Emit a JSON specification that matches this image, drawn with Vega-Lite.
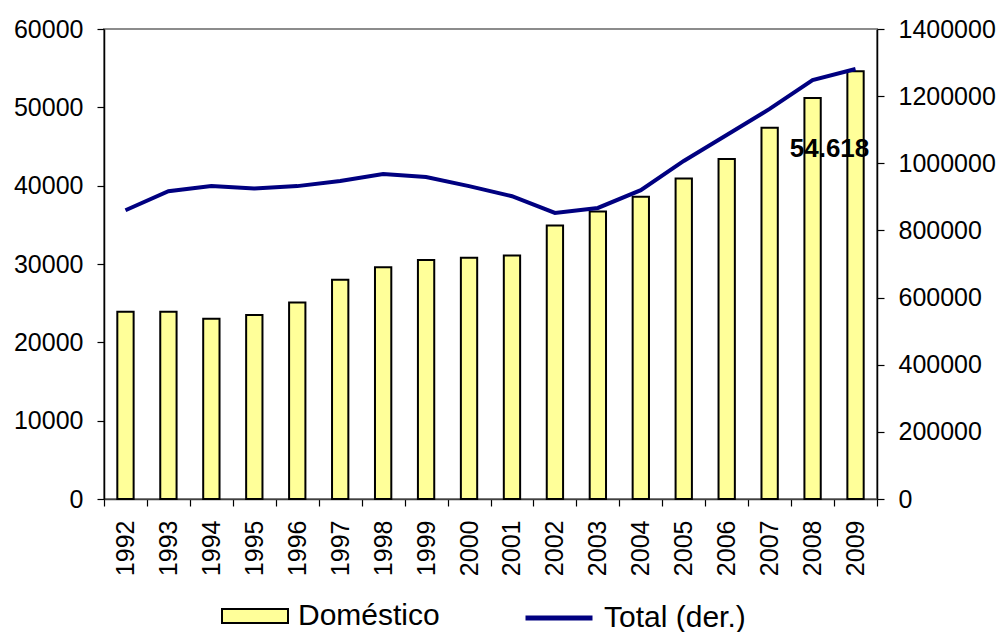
{
  "$schema": "https://vega.github.io/schema/vega-lite/v6.json",
  "width": 773,
  "height": 470,
  "autosize": {"type": "none"},
  "padding": {"left": 104, "top": 29, "right": 125, "bottom": 133},
  "background": "white",
  "config": {
    "font": "Liberation Sans",
    "view": {"stroke": "#8c8c8c", "strokeWidth": 2},
    "axis": {
      "labelFont": "Liberation Sans",
      "labelFontSize": 25,
      "labelColor": "black",
      "domainColor": "black",
      "domainWidth": 1.5,
      "tickColor": "black",
      "tickWidth": 1.2,
      "tickSize": 7,
      "grid": false,
      "title": null
    },
    "legend": {
      "title": null,
      "orient": "none",
      "padding": 0,
      "labelFontSize": 30,
      "labelFont": "Liberation Sans",
      "labelColor": "black",
      "labelOffset": 9,
      "labelLimit": 400
    }
  },
  "data": {
    "values": [
      {"year": "1992", "dom": 23900, "total": 860000},
      {"year": "1993", "dom": 23900, "total": 917000},
      {"year": "1994", "dom": 23000, "total": 932000},
      {"year": "1995", "dom": 23500, "total": 925000},
      {"year": "1996", "dom": 25100, "total": 932000},
      {"year": "1997", "dom": 28000, "total": 947000},
      {"year": "1998", "dom": 29600, "total": 968000},
      {"year": "1999", "dom": 30500, "total": 959000},
      {"year": "2000", "dom": 30800, "total": 932000},
      {"year": "2001", "dom": 31100, "total": 902000},
      {"year": "2002", "dom": 34900, "total": 852000},
      {"year": "2003", "dom": 36700, "total": 867000},
      {"year": "2004", "dom": 38600, "total": 920000},
      {"year": "2005", "dom": 40900, "total": 1007000},
      {"year": "2006", "dom": 43400, "total": 1084000},
      {"year": "2007", "dom": 47400, "total": 1162000},
      {"year": "2008", "dom": 51200, "total": 1248000},
      {"year": "2009", "dom": 54618, "total": 1281000}
    ]
  },
  "encoding": {
    "x": {
      "field": "year",
      "type": "ordinal",
      "scale": {"paddingInner": 0, "paddingOuter": 0},
      "axis": {
        "labelAngle": -90,
        "labelPadding": 14,
        "tickBand": "extent",
        "domainColor": "#404040"
      }
    }
  },
  "layer": [
    {
      "layer": [
        {
          "mark": {"type": "bar", "width": {"band": 0.38}, "stroke": "black", "strokeWidth": 2},
          "encoding": {
            "y": {
              "field": "dom",
              "type": "quantitative",
              "scale": {"domain": [0, 60000]},
              "axis": {"orient": "left", "values": [0, 10000, 20000, 30000, 40000, 50000, 60000], "format": "d", "labelPadding": 14}
            },
            "fill": {
              "datum": "Doméstico",
              "type": "nominal",
              "scale": {"domain": ["Doméstico"], "range": ["#ffff99"]},
              "legend": {
                "legendX": 117,
                "legendY": 553,
                "symbolType": "M-1,-0.21H1V0.21H-1Z",
                "symbolSize": 4356,
                "symbolStrokeColor": "black",
                "symbolStrokeWidth": 2,
                "symbolOpacity": 1
              }
            }
          }
        },
        {
          "data": {"values": [{"year": "2009", "dom": 54618, "label": "54.618"}]},
          "mark": {"type": "text", "fontSize": 26, "fontWeight": "bold", "font": "Liberation Sans", "align": "center", "baseline": "alphabetic", "dx": -26, "dy": 86, "color": "black"},
          "encoding": {
            "y": {"field": "dom", "type": "quantitative", "scale": {"domain": [0, 60000]}},
            "text": {"field": "label"}
          }
        }
      ]
    },
    {
      "mark": {"type": "line", "strokeWidth": 4},
      "encoding": {
        "y": {
          "field": "total",
          "type": "quantitative",
          "scale": {"domain": [0, 1400000]},
          "axis": {"orient": "right", "values": [0, 200000, 400000, 600000, 800000, 1000000, 1200000, 1400000], "format": "d", "labelPadding": 14}
        },
        "stroke": {
          "datum": "Total (der.)",
          "type": "nominal",
          "scale": {"domain": ["Total (der.)"], "range": ["#000080"]},
          "legend": {
            "legendX": 419,
            "legendY": 553,
            "symbolType": "stroke",
            "symbolSize": 4489,
            "symbolStrokeWidth": 5,
            "symbolOpacity": 1
          }
        }
      }
    }
  ],
  "resolve": {"scale": {"y": "independent"}}
}
